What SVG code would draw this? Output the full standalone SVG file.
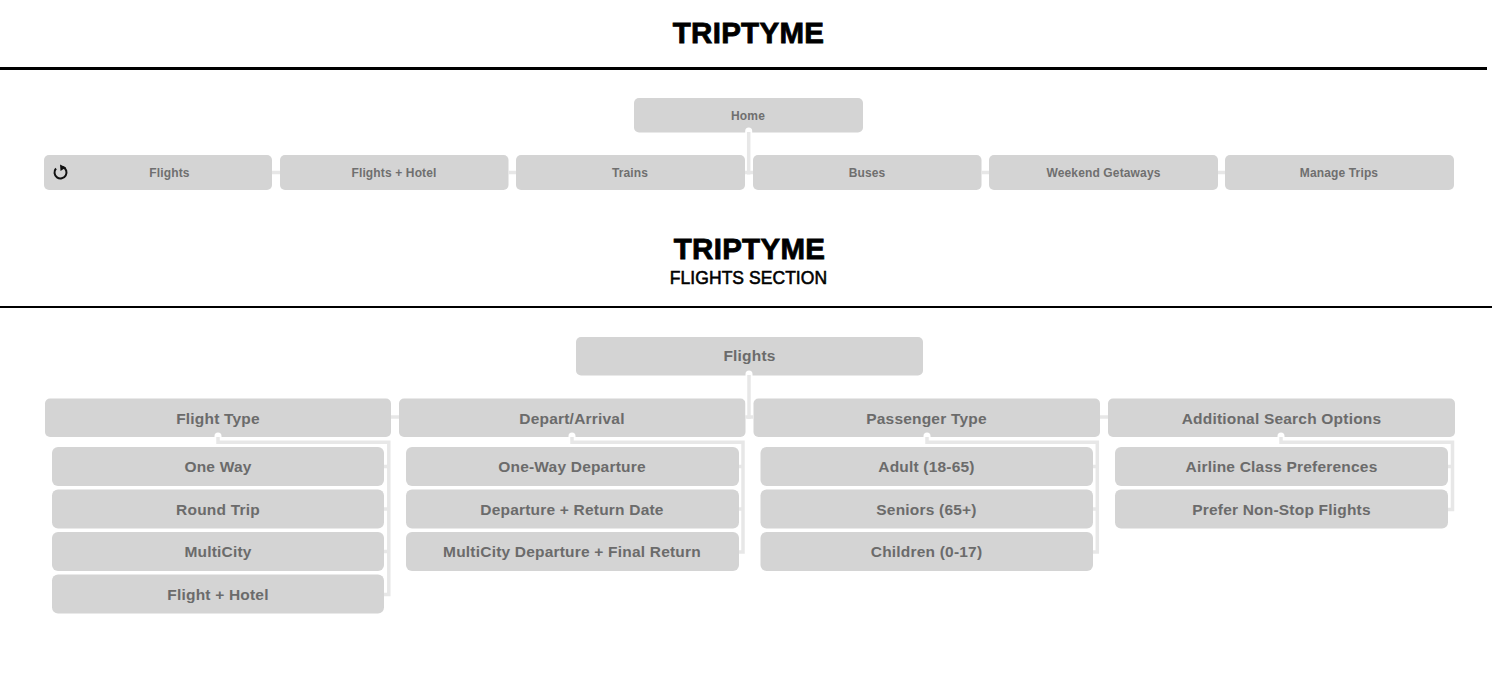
<svg xmlns="http://www.w3.org/2000/svg" width="1492" height="678" viewBox="0 0 1492 678">
<style>
text{font-family:"Liberation Sans",Arial,sans-serif;text-anchor:middle}
.n{fill:#d4d4d4}
.s{font-size:12px;font-weight:bold;fill:#6f6f6f;letter-spacing:.14px}
.b{font-size:15.500px;font-weight:bold;fill:#6b6b6b;letter-spacing:.2px}
.t{font-size:29.500px;font-weight:bold;fill:#000;stroke:#000;stroke-width:.8px;letter-spacing:.3px}
.u{font-size:17.500px;fill:#000;stroke:#000;stroke-width:.55px;letter-spacing:.05px}
.h{fill:none;stroke:#fff;stroke-width:7;stroke-linecap:round;stroke-linejoin:round}
.c{fill:none;stroke:#e7e7e7;stroke-width:3.500}
</style>
<rect width="1492" height="678" fill="#fff"/>
<g id="header-main">
<text class="t" x="748.500" y="43">TRIPTYME</text>
<rect x="0" y="67" width="1487" height="3" fill="#000"/>
</g>
<g id="header-flights">
<text class="t" x="749.500" y="259">TRIPTYME</text>
<text class="u" x="748.500" y="284">FLIGHTS SECTION</text>
<rect x="0" y="306" width="1492" height="2" fill="#000"/>
</g>
<g id="home"><rect class="n" x="634" y="98" width="229" height="34.500" rx="5"/></g>
<g id="nav-flights"><rect class="n" x="44" y="155" width="228" height="35" rx="5"/></g>
<g id="nav-flights-hotel"><rect class="n" x="280" y="155" width="228.500" height="35" rx="5"/></g>
<g id="nav-trains"><rect class="n" x="516" y="155" width="229" height="35" rx="5"/></g>
<g id="nav-buses"><rect class="n" x="753" y="155" width="228.500" height="35" rx="5"/></g>
<g id="nav-weekend"><rect class="n" x="989" y="155" width="229" height="35" rx="5"/></g>
<g id="nav-manage"><rect class="n" x="1225" y="155" width="229" height="35" rx="5"/></g>
<g id="flights"><rect class="n" x="576" y="337" width="347" height="38.500" rx="5"/></g>
<g id="flight-type"><rect class="n" x="45" y="398.500" width="346" height="38.500" rx="5"/></g>
<g id="depart-arrival"><rect class="n" x="399" y="398.500" width="346.500" height="38.500" rx="5"/></g>
<g id="passenger-type"><rect class="n" x="753.500" y="398.500" width="346.500" height="38.500" rx="5"/></g>
<g id="additional"><rect class="n" x="1108" y="398.500" width="347" height="38.500" rx="5"/></g>
<g id="one-way"><rect class="n" x="52" y="447" width="332" height="39" rx="6"/></g>
<g id="round-trip"><rect class="n" x="52" y="489.500" width="332" height="39" rx="6"/></g>
<g id="multicity"><rect class="n" x="52" y="532" width="332" height="39" rx="6"/></g>
<g id="flight-hotel"><rect class="n" x="52" y="574.500" width="332" height="39" rx="6"/></g>
<g id="one-way-departure"><rect class="n" x="406" y="447" width="333" height="39" rx="6"/></g>
<g id="departure-return"><rect class="n" x="406" y="489.500" width="333" height="39" rx="6"/></g>
<g id="multicity-departure"><rect class="n" x="406" y="532" width="333" height="39" rx="6"/></g>
<g id="adult"><rect class="n" x="760.500" y="447" width="332.500" height="39" rx="6"/></g>
<g id="seniors"><rect class="n" x="760.500" y="489.500" width="332.500" height="39" rx="6"/></g>
<g id="children"><rect class="n" x="760.500" y="532" width="332.500" height="39" rx="6"/></g>
<g id="airline-class"><rect class="n" x="1115" y="447" width="333" height="39" rx="6"/></g>
<g id="non-stop"><rect class="n" x="1115" y="489.500" width="333" height="39" rx="6"/></g>
<g id="connectors">
<path class="h" d="M748.700 131V170M749 374V415M218 436V442H388V594M572 436V442H743V552M927 436V442H1097V552M1281 436V442H1452V509"/>
<path class="c" d="M748.700 132V174.500"/>
<path class="c" d="M272 172.500H280M508 172.500H516M745 172.500H753M981 172.500H989M1218 172.500H1225"/>
<path class="c" d="M749 375V419M391 417H399M745 417H753M1100 417H1108"/>
<path class="c" d="M218 437V442.300H388.800V594.500H384M384 466.500H388M384 509H388M384 551.500H388"/>
<path class="c" d="M572 437V442.300H743V552H739M739 466.500H743M739 509H743"/>
<path class="c" d="M927 437V442.300H1097.300V552H1093M1093 466.500H1097M1093 509H1097"/>
<path class="c" d="M1281 437V442.300H1452.500V509.500H1448M1448 466.500H1452"/>
</g>
<g id="labels">
<path d="M56 168.500A6 6 0 1 0 63 167" fill="none" stroke="#111" stroke-width="2"/>
<path d="M60 164.500L66 167.500L60.500 171Z" fill="#111"/>
<text class="s" x="169.500" y="177">Flights</text>
<text class="s" x="748" y="120">Home</text>
<text class="s" x="394" y="177">Flights + Hotel</text>
<text class="s" x="630" y="177">Trains</text>
<text class="s" x="867" y="177">Buses</text>
<text class="s" x="1103.500" y="177">Weekend Getaways</text>
<text class="s" x="1339" y="177">Manage Trips</text>
<text class="b" x="749.500" y="361">Flights</text>
<text class="b" x="218" y="424">Flight Type</text>
<text class="b" x="572" y="424">Depart/Arrival</text>
<text class="b" x="926.500" y="424">Passenger Type</text>
<text class="b" x="1281.500" y="424">Additional Search Options</text>
<text class="b" x="218" y="472">One Way</text>
<text class="b" x="218" y="515">Round Trip</text>
<text class="b" x="218" y="557">MultiCity</text>
<text class="b" x="218" y="600">Flight + Hotel</text>
<text class="b" x="572" y="472">One-Way Departure</text>
<text class="b" x="572" y="515">Departure + Return Date</text>
<text class="b" x="572" y="557">MultiCity Departure + Final Return</text>
<text class="b" x="926.500" y="472">Adult (18-65)</text>
<text class="b" x="926.500" y="515">Seniors (65+)</text>
<text class="b" x="926.500" y="557">Children (0-17)</text>
<text class="b" x="1281.500" y="472">Airline Class Preferences</text>
<text class="b" x="1281.500" y="515">Prefer Non-Stop Flights</text>
</g>
</svg>
